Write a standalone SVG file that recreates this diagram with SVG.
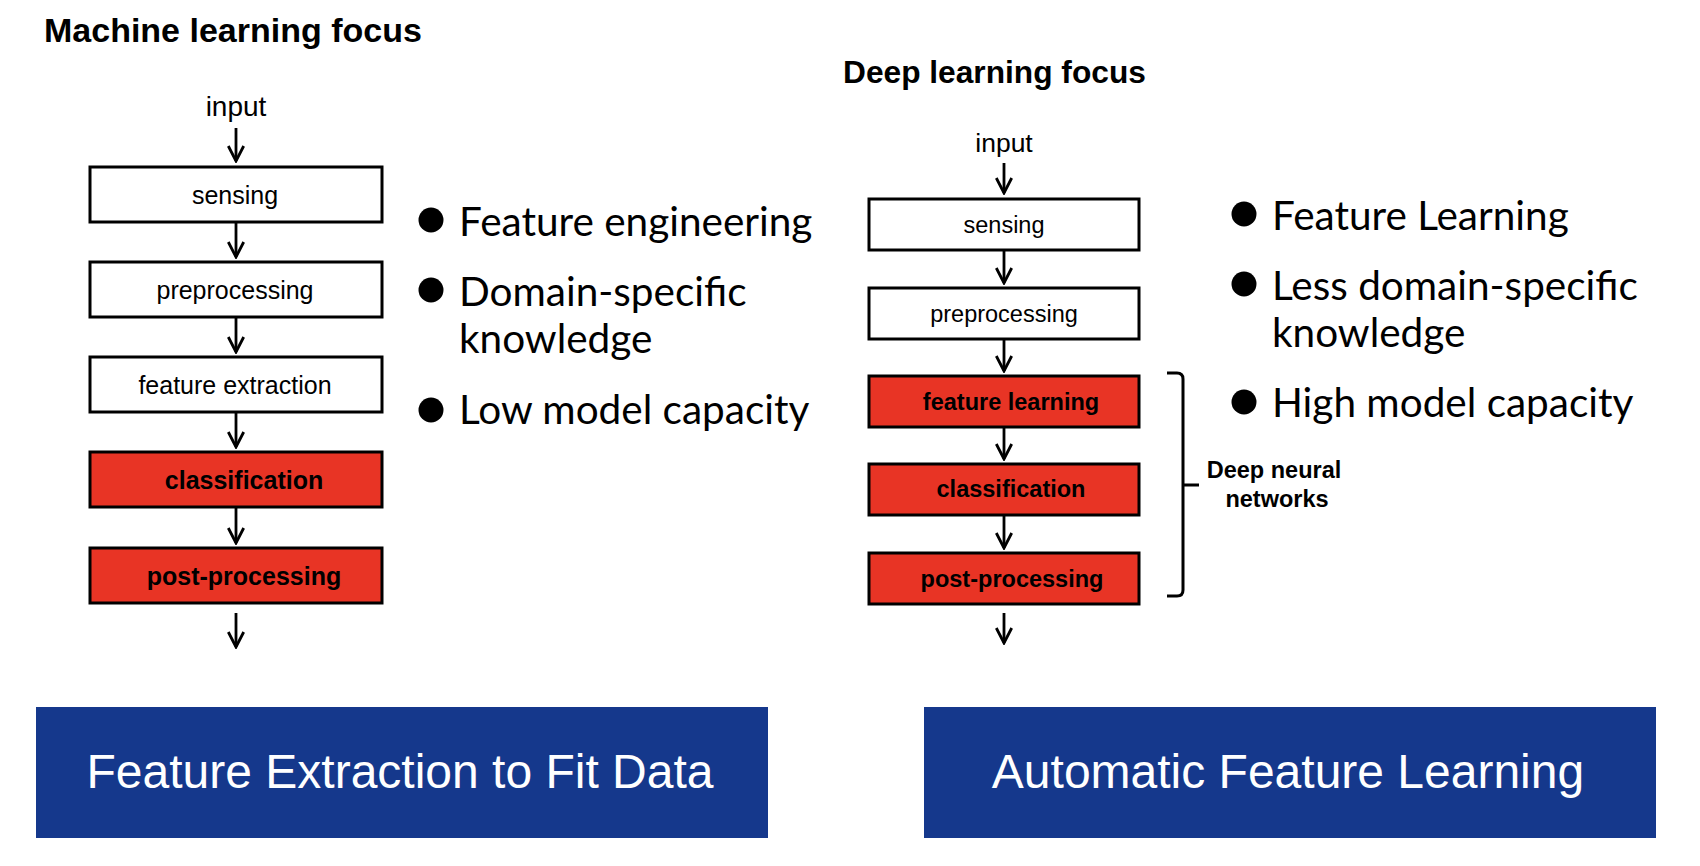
<svg xmlns="http://www.w3.org/2000/svg" width="1700" height="866" viewBox="0 0 1700 866">
<style>
.title{font-family:"Liberation Sans",Arial,sans-serif;font-weight:bold;fill:#000}
.lbl{font-family:"Liberation Sans",Arial,sans-serif;fill:#000;text-anchor:middle}
.b{font-weight:bold}
.box{fill:#fff;stroke:#000;stroke-width:3}
.red{fill:#e83425;stroke:#000;stroke-width:3}
.arr{stroke:#000;stroke-width:2.8;fill:none;marker-end:url(#ah)}
.bul{font-family:Lato,"Open Sans",sans-serif;font-size:40.5px;fill:#000}
.ban{fill:#15388c}
.bant{font-family:"Liberation Sans",Arial,sans-serif;font-size:48px;fill:#fff;text-anchor:middle}
</style>
<defs>
<marker id="ah" markerUnits="userSpaceOnUse" markerWidth="20" markerHeight="20" viewBox="0 0 20 20" refX="18" refY="10" orient="auto">
<path d="M3,2.3 L18,10 L3,17.7" fill="none" stroke="#000" stroke-width="2.8"/>
</marker>
</defs>
<rect width="1700" height="866" fill="#fff"/>

<text class="title" x="44" y="42" font-size="34">Machine learning focus</text>
<text class="title" x="843" y="83" font-size="31.7">Deep learning focus</text>

<g id="ml-input"><text class="lbl" x="236" y="116" font-size="28">input</text></g>
<g id="ml-sensing"><rect class="box" x="90" y="167" width="292" height="55"/><text class="lbl" x="235" y="204" font-size="25">sensing</text></g>
<g id="ml-preprocessing"><rect class="box" x="90" y="262" width="292" height="55"/><text class="lbl" x="235" y="299" font-size="25">preprocessing</text></g>
<g id="ml-feature-extraction"><rect class="box" x="90" y="357" width="292" height="55"/><text class="lbl" x="235" y="394" font-size="25">feature extraction</text></g>
<g id="ml-classification"><rect class="red" x="90" y="452" width="292" height="55"/><text class="lbl b" x="244" y="489" font-size="25">classification</text></g>
<g id="ml-postprocessing"><rect class="red" x="90" y="548" width="292" height="55"/><text class="lbl b" x="244" y="585" font-size="25">post-processing</text></g>

<g id="dl-input"><text class="lbl" x="1004" y="152" font-size="26.5">input</text></g>
<g id="dl-sensing"><rect class="box" x="869" y="199" width="270" height="51"/><text class="lbl" x="1004" y="233" font-size="23.5">sensing</text></g>
<g id="dl-preprocessing"><rect class="box" x="869" y="288" width="270" height="51"/><text class="lbl" x="1004" y="322" font-size="23.5">preprocessing</text></g>
<g id="dl-feature-learning"><rect class="red" x="869" y="376" width="270" height="51"/><text class="lbl b" x="1011" y="410" font-size="23.5">feature learning</text></g>
<g id="dl-classification"><rect class="red" x="869" y="464" width="270" height="51"/><text class="lbl b" x="1011" y="497" font-size="23.5">classification</text></g>
<g id="dl-postprocessing"><rect class="red" x="869" y="553" width="270" height="51"/><text class="lbl b" x="1012" y="587" font-size="23.5">post-processing</text></g>

<g id="dnn-brace">
<path d="M1167,373 L1177,373 Q1183,373 1183,379 L1183,590 Q1183,596 1177,596 L1167,596 M1183,485 L1199,485" fill="none" stroke="#000" stroke-width="3"/>
<text class="lbl b" x="1274" y="478" font-size="23.5">Deep neural</text>
<text class="lbl b" x="1277" y="507" font-size="23.5">networks</text>
</g>

<g id="connectors">
<line class="arr" x1="236" y1="128" x2="236" y2="161"/>
<line class="arr" x1="236" y1="223" x2="236" y2="257"/>
<line class="arr" x1="236" y1="318" x2="236" y2="352"/>
<line class="arr" x1="236" y1="413" x2="236" y2="447"/>
<line class="arr" x1="236" y1="508" x2="236" y2="543"/>
<line class="arr" x1="236" y1="613" x2="236" y2="647"/>
<line class="arr" x1="1004" y1="163" x2="1004" y2="193"/>
<line class="arr" x1="1004" y1="251" x2="1004" y2="283"/>
<line class="arr" x1="1004" y1="340" x2="1004" y2="371"/>
<line class="arr" x1="1004" y1="428" x2="1004" y2="459"/>
<line class="arr" x1="1004" y1="516" x2="1004" y2="548"/>
<line class="arr" x1="1004" y1="613" x2="1004" y2="643"/>
</g>

<g id="ml-bullets">
<circle cx="431" cy="220" r="12.5"/>
<text class="bul" x="459" y="236">Feature engineering</text>
<circle cx="431" cy="290" r="12.5"/>
<text class="bul" x="459" y="306">Domain-specific</text>
<text class="bul" x="459" y="353">knowledge</text>
<circle cx="431" cy="410" r="12.5"/>
<text class="bul" x="459" y="424">Low model capacity</text>
</g>

<g id="dl-bullets">
<circle cx="1244" cy="214" r="12.5"/>
<text class="bul" x="1272" y="230">Feature Learning</text>
<circle cx="1244" cy="284" r="12.5"/>
<text class="bul" x="1272" y="300">Less domain-specific</text>
<text class="bul" x="1272" y="347">knowledge</text>
<circle cx="1244" cy="402" r="12.5"/>
<text class="bul" x="1272" y="417">High model capacity</text>
</g>

<g id="banner-ml"><rect class="ban" x="36" y="707" width="732" height="131"/><text class="bant" x="400" y="788">Feature Extraction to Fit Data</text></g>
<g id="banner-dl"><rect class="ban" x="924" y="707" width="732" height="131"/><text class="bant" x="1288" y="788">Automatic Feature Learning</text></g>
</svg>
